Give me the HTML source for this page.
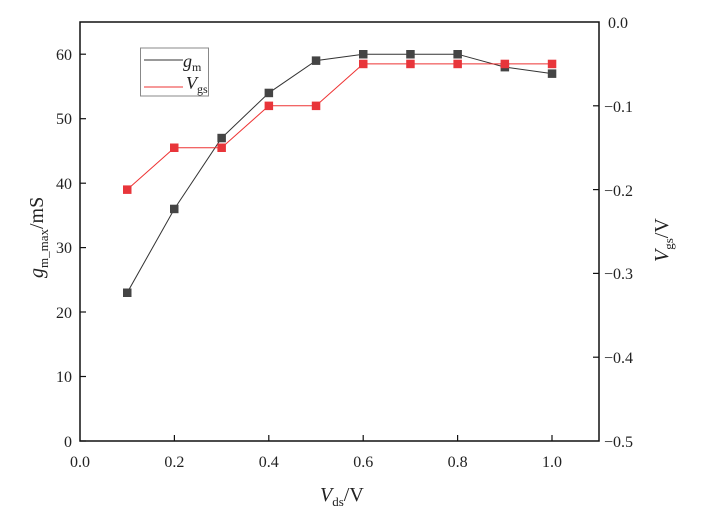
<!DOCTYPE html><html><head><style>body{margin:0;background:#fff}svg{display:block}text{font-family:"Liberation Serif",serif;fill:#222}</style></head><body>
<svg width="706" height="521" xmlns="http://www.w3.org/2000/svg">
<rect x="80" y="22" width="519" height="419" fill="none" stroke="#111" stroke-width="1.5"/>
<g stroke="#111" stroke-width="1.2">
<line x1="80" y1="441" x2="86" y2="441"/><line x1="80" y1="376.5" x2="86" y2="376.5"/><line x1="80" y1="312" x2="86" y2="312"/><line x1="80" y1="247.6" x2="86" y2="247.6"/><line x1="80" y1="183.2" x2="86" y2="183.2"/><line x1="80" y1="118.7" x2="86" y2="118.7"/><line x1="80" y1="54.2" x2="86" y2="54.2"/>
<line x1="599" y1="105.8" x2="593" y2="105.8"/><line x1="599" y1="189.6" x2="593" y2="189.6"/><line x1="599" y1="273.4" x2="593" y2="273.4"/><line x1="599" y1="357.2" x2="593" y2="357.2"/>
<line x1="174.4" y1="441" x2="174.4" y2="435"/><line x1="268.8" y1="441" x2="268.8" y2="435"/><line x1="363.2" y1="441" x2="363.2" y2="435"/><line x1="457.6" y1="441" x2="457.6" y2="435"/><line x1="552" y1="441" x2="552" y2="435"/>
</g>
<g font-size="16" text-anchor="end">
<text x="72" y="447">0</text><text x="72" y="382">10</text><text x="72" y="318">20</text><text x="72" y="253">30</text><text x="72" y="189">40</text><text x="72" y="124">50</text><text x="72" y="60">60</text></g>
<g font-size="16"><text x="608" y="28">0.0</text><text x="604" y="112">−0.1</text><text x="604" y="196">−0.2</text><text x="604" y="279">−0.3</text><text x="604" y="363">−0.4</text><text x="604" y="447">−0.5</text></g>
<g font-size="16" text-anchor="middle"><text x="80" y="467">0.0</text><text x="174.4" y="467">0.2</text><text x="268.8" y="467">0.4</text><text x="363.2" y="467">0.6</text><text x="457.6" y="467">0.8</text><text x="552" y="467">1.0</text></g>
<text x="320" y="501" font-size="20"><tspan font-style="italic">V</tspan><tspan font-size="13" dy="5">ds</tspan><tspan dy="-5">/V</tspan></text>
<text transform="translate(43,278) rotate(-90)" font-size="20"><tspan font-style="italic">g</tspan><tspan font-size="13" dy="5">m_max</tspan><tspan dy="-5">/mS</tspan></text>
<text transform="translate(668,262) rotate(-90)" font-size="20"><tspan font-style="italic">V</tspan><tspan font-size="13" dy="5">gs</tspan><tspan dy="-5">/V</tspan></text>
<polyline fill="none" stroke="#333" stroke-width="1" points="127.2,292.7 174.4,208.9 221.6,138 268.8,92.9 316,60.6 363.2,54.2 410.4,54.2 457.6,54.2 504.8,67.1 552,73.6"/>
<polyline fill="none" stroke="#e33" stroke-width="1" points="127.2,189.6 174.4,147.7 221.6,147.7 268.8,105.8 316,105.8 363.2,63.9 410.4,63.9 457.6,63.9 504.8,63.9 552,63.9"/>
<g fill="#444"><rect x="123" y="288.5" width="8.5" height="8.5"/><rect x="170" y="204.7" width="8.5" height="8.5"/><rect x="217.4" y="133.8" width="8.5" height="8.5"/><rect x="264.6" y="88.7" width="8.5" height="8.5"/><rect x="311.8" y="56.4" width="8.5" height="8.5"/><rect x="359" y="50" width="8.5" height="8.5"/><rect x="406.2" y="50" width="8.5" height="8.5"/><rect x="453.4" y="50" width="8.5" height="8.5"/><rect x="500.6" y="62.9" width="8.5" height="8.5"/><rect x="547.8" y="69.4" width="8.5" height="8.5"/></g>
<g fill="#e8353a"><rect x="123" y="185.4" width="8.5" height="8.5"/><rect x="170" y="143.5" width="8.5" height="8.5"/><rect x="217.4" y="143.5" width="8.5" height="8.5"/><rect x="264.6" y="101.6" width="8.5" height="8.5"/><rect x="311.8" y="101.6" width="8.5" height="8.5"/><rect x="359" y="59.7" width="8.5" height="8.5"/><rect x="406.2" y="59.7" width="8.5" height="8.5"/><rect x="453.4" y="59.7" width="8.5" height="8.5"/><rect x="500.6" y="59.7" width="8.5" height="8.5"/><rect x="547.8" y="59.7" width="8.5" height="8.5"/></g>
<rect x="140.5" y="48" width="68" height="48" fill="#fff" stroke="#888" stroke-width="1"/>
<line x1="144" y1="60" x2="183" y2="60" stroke="#333"/>
<line x1="144" y1="87" x2="183" y2="87" stroke="#e33"/>
<text x="183" y="67" font-size="18"><tspan font-style="italic">g</tspan><tspan font-size="12" dy="4">m</tspan></text>
<text x="186" y="89" font-size="18"><tspan font-style="italic">V</tspan><tspan font-size="12" dy="4">gs</tspan></text>
</svg></body></html>
